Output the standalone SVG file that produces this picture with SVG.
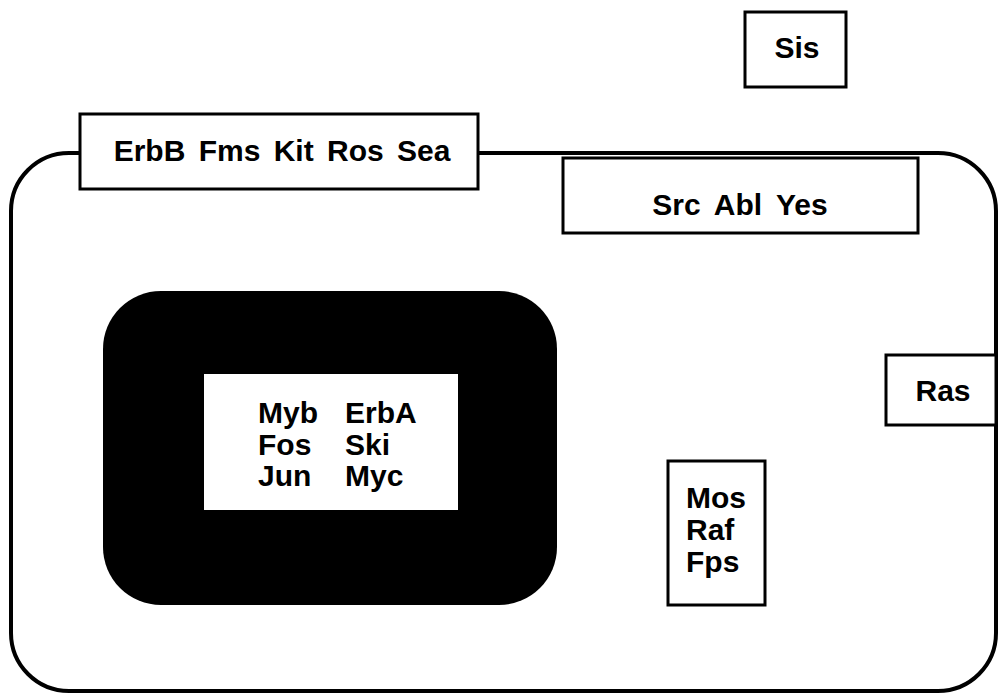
<svg xmlns="http://www.w3.org/2000/svg" width="1003" height="698" viewBox="0 0 1003 698">
<style>
.box{fill:#fff;stroke:#000;stroke-width:3}
.lbl{font-family:"Liberation Sans",Arial,sans-serif;font-weight:bold;font-size:30px;fill:#000}
</style>
<rect width="1003" height="698" fill="#fff"/>
<g id="cell">
<rect x="11" y="153" width="985" height="538" rx="58" ry="58" fill="#fff" stroke="#000" stroke-width="4"/>
</g>
<g id="nucleus">
<rect x="103" y="291" width="454" height="314" rx="58" ry="58" fill="#000"/>
<rect x="204" y="374" width="254" height="136" fill="#fff"/>
<text class="lbl" x="258" y="423">Myb</text>
<text class="lbl" x="345" y="423">ErbA</text>
<text class="lbl" x="258" y="455">Fos</text>
<text class="lbl" x="345" y="455">Ski</text>
<text class="lbl" x="258" y="486">Jun</text>
<text class="lbl" x="345" y="486">Myc</text>
</g>
<g id="membrane-receptors">
<rect class="box" x="80" y="114" width="398" height="75"/>
<text class="lbl" x="282" y="161" text-anchor="middle" word-spacing="5">ErbB Fms Kit Ros Sea</text>
</g>
<g id="src-family">
<rect class="box" x="563" y="158" width="355" height="75"/>
<text class="lbl" x="740" y="215" text-anchor="middle" word-spacing="6">Src Abl Yes</text>
</g>
<g id="sis">
<rect class="box" x="745" y="12" width="101" height="75"/>
<text class="lbl" x="797" y="58" text-anchor="middle">Sis</text>
</g>
<g id="ras">
<rect class="box" x="886" y="355" width="110" height="70"/>
<text class="lbl" x="943" y="401" text-anchor="middle">Ras</text>
</g>
<g id="serine-kinases">
<rect class="box" x="668" y="461" width="97" height="144"/>
<text class="lbl" x="686" y="508">Mos</text>
<text class="lbl" x="686" y="540">Raf</text>
<text class="lbl" x="686" y="572">Fps</text>
</g>
<g id="connectors"/>
</svg>
